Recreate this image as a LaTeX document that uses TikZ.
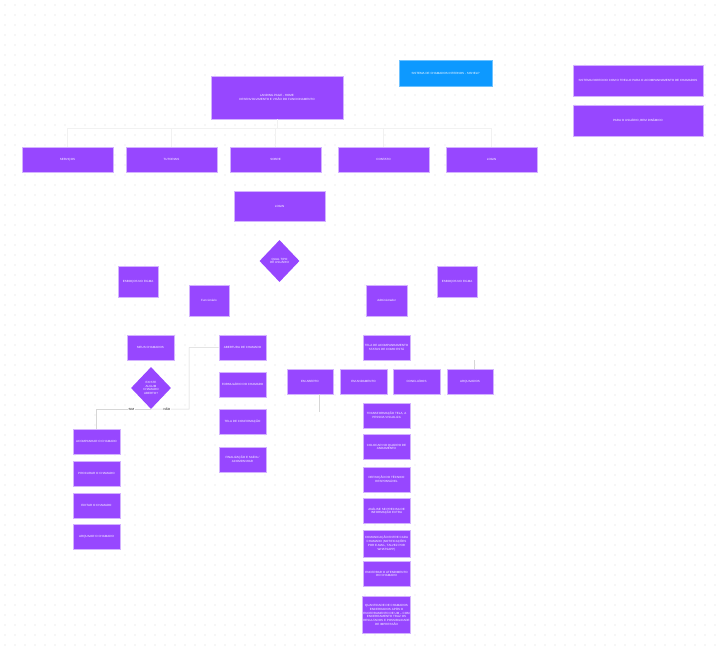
\documentclass[tikz,border=0pt]{standalone}
\usepackage{fontspec}
\setmainfont{Liberation Sans}
\usetikzlibrary{shapes.geometric}
\definecolor{roxo}{HTML}{9747FF}
\definecolor{roxoborda}{HTML}{D3B2FF}
\definecolor{azul}{HTML}{0D99FF}
\definecolor{pontos}{HTML}{DADADA}
\definecolor{linha}{HTML}{D6D6D6}
\begin{document}
\begin{tikzpicture}[x=1pt, y=-1pt,
    caixa/.style={rectangle, fill=roxo, draw=roxoborda, line width=.6pt, text=white, align=center, inner sep=1pt, font=\fontsize{3}{3.8}\selectfont, minimum width=47pt, minimum height=25pt},
    losango/.style={diamond, fill=roxo, text=white, align=center, inner sep=0pt, minimum width=40pt, minimum height=42pt, font=\fontsize{3}{3.8}\selectfont},
    liga/.style={draw=linha, line width=.5pt},
    rot/.style={fill=white, inner sep=.6pt, font=\fontsize{3}{3.8}\selectfont}]
    \useasboundingbox (0,0) rectangle (722,647);
    \fill[white] (0,0) rectangle (722,647);
    \foreach \x in {5,15,...,715} \foreach \y in {5,15,...,645} \fill[pontos] (\x,\y) circle (.6);

    \node[caixa, minimum width=132pt, minimum height=43pt] (landing) at (277,97.5) {LANDING PAGE - HOME\\DESENVOLVIMENTO E VISÃO DO FUNCIONAMENTO};
    \node[caixa, fill=azul, draw=azul!60, minimum width=93pt, minimum height=26pt] (sishelp) at (445.5,73) {SISTEMA DE CHAMADOS INTERNOS - SISHELP};
    \node[caixa, minimum width=130pt, minimum height=31pt] (trello) at (638,80.5) {SISTEMA PARECIDO COM O TRELLO PARA O ACOMPANHAMENTO DE CHAMADOS};
    \node[caixa, minimum width=130pt, minimum height=31pt] (dinamico) at (638,120.5) {PARA O USUÁRIO, BEM DINÂMICO};

    \node[caixa, minimum width=91pt] (servicos) at (67.5,159.5) {SERVIÇOS};
    \node[caixa, minimum width=91pt] (tutoriais) at (171.5,159.5) {TUTORIAIS};
    \node[caixa, minimum width=91pt] (sobre) at (275.5,159.5) {SOBRE};
    \node[caixa, minimum width=91pt] (contato) at (383.5,159.5) {CONTATO};
    \node[caixa, minimum width=91pt] (loginmenu) at (491.5,159.5) {LOGIN};
    \coordinate (barra) at (277,128);
    \draw[liga, draw=linha!35] (landing.south) -- (barra);
    \foreach \n in {servicos,tutoriais,sobre,contato,loginmenu}
        \draw[liga, draw=linha!35] (barra) -| (\n.north);

    \node[caixa, minimum width=91pt, minimum height=30pt] (login) at (279.5,206) {LOGIN};
    \node[losango] (tipo) at (279.5,261) {QUAL TIPO\\DE USUÁRIO};

    \node[caixa, minimum width=40pt, minimum height=31pt] (esbocosf) at (138,281.5) {ESBOÇOS NO FIGMA};
    \node[caixa, minimum width=40pt, minimum height=31pt] (funcionario) at (209,300.5) {Funcionário};
    \node[caixa, minimum width=41pt, minimum height=31pt] (admin) at (386.5,300.5) {Administrador};
    \node[caixa, minimum width=40pt, minimum height=31pt] (esbocosa) at (457,281.5) {ESBOÇOS NO FIGMA};

    \node[caixa] (meus) at (150.5,347.5) {MEUS CHAMADOS};
    \node[losango] (existe) at (151,388) {EXISTE\\ALGUM\\CHAMADO\\ABERTO?};
    \node[caixa] (abertura) at (242.5,347.5) {ABERTURA DE CHAMADO};
    \node[caixa] (formulario) at (242.5,384.5) {FORMULÁRIO DO CHAMADO};
    \node[caixa] (confirmacao) at (242.5,421.5) {TELA DE CONFIRMAÇÃO};
    \node[caixa] (finalizacao) at (242.5,459.5) {FINALIZAÇÃO E SAÍDA /\\ACOMPANHAR};
    \node[caixa] (acompanhar) at (96.5,441.5) {ACOMPANHAR O CHAMADO};
    \node[caixa] (procurar) at (96.5,473.5) {PROCURAR O CHAMADO};
    \node[caixa] (editar) at (96.5,505.5) {EDITAR O CHAMADO};
    \node[caixa] (arquivar) at (96.5,536.5) {ARQUIVAR O CHAMADO};
    \coordinate (nao) at (189,409);
    \draw[liga] (existe.south) -| node[rot, pos=.18] {SIM} (acompanhar.north);
    \draw[liga] (existe.south) -- node[rot, pos=.42] {NÃO} (nao) |- (abertura.west);

    \node[caixa] (telaacomp) at (386.5,347.5) {TELA DE ACOMPANHAMENTO\\STATUS DE COMO ESTÁ};
    \node[caixa, minimum width=46pt] (emaberto) at (310,381.5) {EM ABERTO};
    \node[caixa] (emandamento) at (363.5,381.5) {EM ANDAMENTO};
    \node[caixa] (concluidos) at (416.5,381.5) {CONCLUÍDOS};
    \node[caixa, minimum width=46pt] (arquivados) at (470,381.5) {ARQUIVADOS};
    \coordinate (pontaa) at (319,412);
    \coordinate (pontab) at (474,360);
    \draw[liga] (emaberto.south -| pontaa) -- (pontaa);
    \draw[liga] (arquivados.north -| pontab) -- (pontab);

    \node[caixa] (transformacao) at (386.5,415.5) {TRANSFORMAÇÃO TELA, A\\PESSOA VISUALIZA};
    \node[caixa] (colocar) at (386.5,447) {COLOCAR NO QUADRO DE\\ANDAMENTO};
    \node[caixa] (definicao) at (386.5,479.5) {DEFINIÇÃO DO TÉCNICO\\RESPONSÁVEL};
    \node[caixa] (analise) at (386.5,511) {ANÁLISE SE PRECISA DE\\INFORMAÇÃO EXTRA};
    \node[caixa, minimum height=27pt] (comunicacao) at (386.5,543.5) {COMUNICAÇÃO ENTRE CADA\\CHAMADO (NOTIFICAÇÕES\\POR E-MAIL, TALVEZ POR\\WHATSAPP)};
    \node[caixa] (encerrar) at (386.5,574) {ENCERRAR O ATENDIMENTO\\DO CHAMADO};
    \node[caixa, minimum height=37pt] (quantidade) at (386.5,615) {QUANTIDADE DE CHAMADOS\\ENCERRADOS APÓS O\\ENCERRAMENTO DE UM -- COM\\ENCERRAMENTO TRAZ OS\\RESULTADOS E POSSIBILIDADE\\DE IMPRESSÃO};
\end{tikzpicture}
\end{document}
